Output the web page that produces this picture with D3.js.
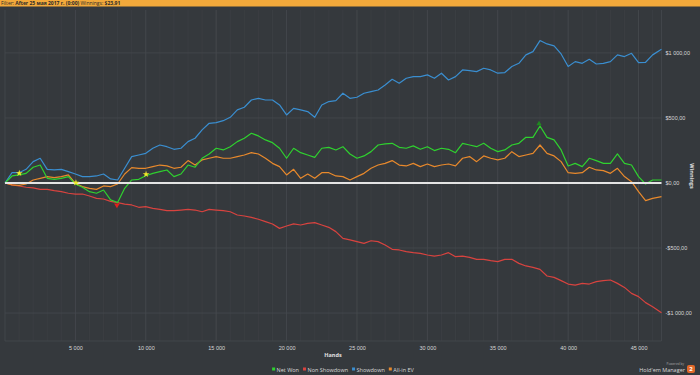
<!DOCTYPE html>
<html>
<head>
<meta charset="utf-8">
<script src="https://cdn.jsdelivr.net/npm/d3@7"></script>
<style>
  body { margin: 0; background: #35393d; }
  svg { display: block; font-family: "Open Sans", "DejaVu Sans", sans-serif; }
</style>
</head>
<body>
<div id="chart"></div>
<script>
// Chart size
const width = 700, height = 375;

// Hands played (x values of the samples)
const hands = [0, 500, 1000, 1500, 2000, 2500, 3000, 3500, 4000, 4500,
  5000, 5500, 6000, 6500, 7000, 7500, 8000, 8500, 9000, 9500,
  10000, 10500, 11000, 11500, 12000, 12500, 13000, 13500, 14000, 14500,
  15000, 15500, 16000, 16500, 17000, 17500, 18000, 18500, 19000, 19500,
  20000, 20500, 21000, 21500, 22000, 22500, 23000, 23500, 24000, 24500,
  25000, 25500, 26000, 26500, 27000, 27500, 28000, 28500, 29000, 29500,
  30000, 30500, 31000, 31500, 32000, 32500, 33000, 33500, 34000, 34500,
  35000, 35500, 36000, 36500, 37000, 37500, 38000, 38500, 39000, 39500,
  40000, 40500, 41000, 41500, 42000, 42500, 43000, 43500, 44000, 44500,
  45000, 45500, 46000, 46630];

// Winnings in $ for each series
const netWon = [0, 54, 62, 74, 121, 138, 36, 28, 36, 49,
  -8, -33, -67, -79, -54, -130, -150, -41, 23, 28,
  56, 74, 87, 100, 49, 69, 138, 121, 190, 223,
  267, 254, 279, 318, 344, 382, 362, 331, 310, 267,
  190, 267, 233, 215, 197, 267, 274, 254, 279, 223,
  190, 208, 241, 292, 300, 305, 274, 267, 285, 259,
  279, 249, 267, 259, 233, 305, 292, 279, 305, 267,
  241, 254, 292, 305, 351, 351, 438, 351, 331, 254,
  131, 151, 126, 190, 172, 151, 151, 223, 151, 138,
  49, -8, 23, 23];

const nonShowdown = [0, -15, -23, -33, -38, -49, -49, -59, -67, -79,
  -85, -85, -100, -118, -123, -141, -151, -162, -169, -187,
  -182, -195, -203, -213, -213, -208, -203, -208, -221, -203,
  -208, -213, -221, -246, -254, -264, -279, -297, -315, -349,
  -331, -315, -323, -310, -305, -323, -341, -374, -426, -438,
  -451, -464, -444, -451, -477, -510, -515, -528, -536, -541,
  -554, -562, -554, -536, -567, -562, -572, -587, -587, -597,
  -605, -587, -587, -618, -638, -649, -664, -715, -726, -751,
  -777, -785, -772, -777, -759, -751, -746, -772, -803, -849,
  -874, -920, -951, -997];

const showdown = [0, 79, 79, 105, 164, 190, 105, 100, 105, 87,
  69, 49, 49, 54, 69, 31, 23, 113, 203, 215,
  228, 267, 292, 279, 259, 267, 318, 344, 408, 459,
  464, 479, 505, 562, 582, 638, 651, 638, 638, 600,
  523, 574, 562, 549, 505, 600, 626, 633, 690, 651,
  659, 690, 703, 715, 754, 797, 767, 805, 818, 818,
  831, 805, 844, 792, 818, 869, 864, 856, 882, 869,
  844, 849, 895, 920, 985, 1010, 1095, 1069, 1054, 992,
  895, 933, 920, 951, 915, 920, 933, 985, 972, 997,
  926, 928, 985, 1028];

const allInEV = [0, -15, -18, -8, 23, 36, 49, 41, 49, 62,
  -3, -28, -41, -49, -23, -28, -8, 69, 118, 113,
  113, 126, 138, 131, 113, 121, 172, 138, 177, 190,
  203, 190, 190, 203, 215, 233, 223, 190, 151, 126,
  62, 105, 36, 69, 36, 79, 79, 54, 49, 23,
  49, 74, 113, 138, 151, 172, 138, 131, 151, 126,
  146, 126, 138, 146, 131, 190, 203, 164, 208, 190,
  177, 190, 241, 203, 215, 228, 292, 228, 208, 164,
  79, 74, 79, 121, 100, 95, 74, 113, 49, 10,
  -67, -136, -118, -105];

// Series names and colours, in legend order
const seriesNames = ["Net Won", "Non Showdown", "Showdown", "All-in EV"];
const seriesColors = ["#2fd12f", "#d8433f", "#3a8ed0", "#e8892c"];
const seriesValues = [netWon, nonShowdown, showdown, allInEV];

// Marker points drawn on the lines
const starHands = [1015, 5040, 10020];
const starValues = [75, 2, 67];

// Tick values
const xTicks = [5000, 10000, 15000, 20000, 25000, 30000, 35000, 40000, 45000];
const xMinorTicks = d3.range(1000, 46001, 1000);
const yTicks = [-1000, -500, 0, 500, 1000];

// Plot area
const plot = {left: 5, right: 661.5, top: 10, bottom: 341};

const svg = d3.select("#chart").append("svg")
  .attr("width", width)
  .attr("height", height);

svg.append("rect")
  .attr("width", width)
  .attr("height", height)
  .attr("fill", "#35393d");

const x = d3.scaleLinear()
  .domain([0, 46630])
  .range([plot.left, plot.right]);

const y = d3.scaleLinear()
  .domain([-1215, 1330])
  .range([plot.bottom, plot.top]);

// Money format like "$1 000,00"
function formatMoney(v) {
  const s = d3.format(",.2f")(Math.abs(v)).replace(/,/g, " ").replace(".", ",");
  return (v < 0 ? "-" : "") + "$" + s;
}

// === Grid ===
svg.append("g")
  .selectAll("line")
  .data(xMinorTicks)
  .enter()
  .append("line")
  .attr("x1", d => x(d))
  .attr("x2", d => x(d))
  .attr("y1", plot.top)
  .attr("y2", plot.bottom)
  .attr("stroke", "#3d4145")
  .attr("stroke-width", 0.7);

svg.append("g")
  .selectAll("line")
  .data(xTicks)
  .enter()
  .append("line")
  .attr("x1", d => x(d))
  .attr("x2", d => x(d))
  .attr("y1", plot.top)
  .attr("y2", plot.bottom)
  .attr("stroke", "#45494e")
  .attr("stroke-width", 0.8);

svg.append("g")
  .selectAll("line")
  .data(yTicks)
  .enter()
  .append("line")
  .attr("x1", plot.left)
  .attr("x2", plot.right)
  .attr("y1", d => y(d))
  .attr("y2", d => y(d))
  .attr("stroke", "#45494e")
  .attr("stroke-width", 0.8);

// plot frame (left, bottom and right edges)
svg.append("path")
  .attr("d", `M${plot.left},${plot.top}V${plot.bottom}H${plot.right}V${plot.top}`)
  .attr("fill", "none")
  .attr("stroke", "#45494e")
  .attr("stroke-width", 0.8);

// === Series lines ===
const line = d3.line()
  .x((d, i) => x(hands[i]))
  .y(d => y(d));

const drawOrder = [1, 2, 3, 0];
drawOrder.forEach(k => {
  svg.append("path")
    .datum(seriesValues[k])
    .attr("d", line)
    .attr("fill", "none")
    .attr("stroke", seriesColors[k])
    .attr("stroke-width", 1.2)
    .attr("stroke-linejoin", "round");
});

// zero line
svg.append("line")
  .attr("x1", plot.left)
  .attr("x2", plot.right)
  .attr("y1", y(0))
  .attr("y2", y(0))
  .attr("stroke", "#e4e4e4")
  .attr("stroke-width", 1.8);

// markers
svg.append("g")
  .selectAll("path")
  .data(starHands)
  .enter()
  .append("path")
  .attr("transform", (d, i) => `translate(${x(d)},${y(starValues[i])})`)
  .attr("d", d3.symbol().type(d3.symbolStar).size(14))
  .attr("fill", "#f2ea2a");

svg.append("path")
  .attr("transform", `translate(${x(7950)},${y(-170)}) rotate(180)`)
  .attr("d", d3.symbol().type(d3.symbolTriangle).size(14))
  .attr("fill", "#e0221c");

svg.append("path")
  .attr("transform", `translate(${x(37930)},${y(455)})`)
  .attr("d", d3.symbol().type(d3.symbolTriangle).size(12))
  .attr("fill", "#1f8a1f");

// === Axes ===
const xAxis = svg.append("g")
  .attr("transform", `translate(0, ${plot.bottom})`)
  .call(d3.axisBottom(x)
    .tickValues(xTicks)
    .tickSize(0)
    .tickPadding(5)
    .tickFormat(d => d3.format(",")(d).replace(/,/g, " ")));
xAxis.select(".domain").remove();
xAxis.selectAll("text")
  .attr("fill", "#d8d8d8")
  .style("font-size", "5.5px");

const yAxis = svg.append("g")
  .attr("transform", `translate(${plot.right}, 0)`)
  .call(d3.axisRight(y)
    .tickValues(yTicks)
    .tickSize(0)
    .tickPadding(4)
    .tickFormat(formatMoney));
yAxis.select(".domain").remove();
yAxis.selectAll("text")
  .attr("fill", "#d8d8d8")
  .style("font-size", "5.5px");

svg.append("text")
  .attr("x", 333)
  .attr("y", 357)
  .attr("text-anchor", "middle")
  .attr("fill", "#e0e0e0")
  .style("font-size", "5.5px")
  .style("font-weight", "bold")
  .text("Hands");

svg.append("text")
  .attr("transform", `translate(690, 176) rotate(90)`)
  .attr("text-anchor", "middle")
  .attr("fill", "#e0e0e0")
  .style("font-size", "5.5px")
  .style("font-weight", "bold")
  .text("Winnings");

// === Legend ===
const legend = svg.append("g");
let lx = 0;
seriesNames.forEach((name, i) => {
  const item = legend.append("g").attr("transform", `translate(${lx}, 0)`);
  item.append("rect")
    .attr("x", 0)
    .attr("y", -2.5)
    .attr("width", 3)
    .attr("height", 3)
    .attr("fill", seriesColors[i]);
  const t = item.append("text")
    .attr("x", 4.5)
    .attr("y", 0)
    .attr("dy", "0.35em")
    .attr("fill", "#d8d8d8")
    .style("font-size", "5.5px")
    .text(name);
  lx += 4.5 + t.node().getComputedTextLength() + 4;
});
legend.attr("transform", `translate(${343 - (lx - 4) / 2}, 370)`);

// === Branding ===
svg.append("text")
  .attr("x", 684)
  .attr("y", 365.3)
  .attr("text-anchor", "end")
  .attr("fill", "#a8a8a8")
  .style("font-size", "3.2px")
  .text("Powered by");

svg.append("text")
  .attr("x", 685)
  .attr("y", 372)
  .attr("text-anchor", "end")
  .attr("fill", "#d8d8d8")
  .style("font-size", "5.5px")
  .text("Hold'em Manager");

svg.append("rect")
  .attr("x", 687)
  .attr("y", 365)
  .attr("width", 8)
  .attr("height", 8)
  .attr("rx", 2)
  .attr("fill", "#e2692a");

svg.append("text")
  .attr("x", 691)
  .attr("y", 371.2)
  .attr("text-anchor", "middle")
  .attr("fill", "#ffffff")
  .style("font-size", "6px")
  .style("font-weight", "bold")
  .text("2");

// === Filter bar ===
svg.append("rect")
  .attr("width", width)
  .attr("height", 6.5)
  .attr("fill", "#f2a93b");

const bar = svg.append("text")
  .attr("x", 1)
  .attr("y", 5)
  .attr("fill", "#2a2a2a")
  .style("font-size", "5px");
bar.append("tspan").text("Filter: ");
bar.append("tspan").style("font-weight", "bold").text("After 25 мая 2017 г. (0:00)");
bar.append("tspan").text(" Winnings: ");
bar.append("tspan").style("font-weight", "bold").text("$23,91");
</script>
</body>
</html>
